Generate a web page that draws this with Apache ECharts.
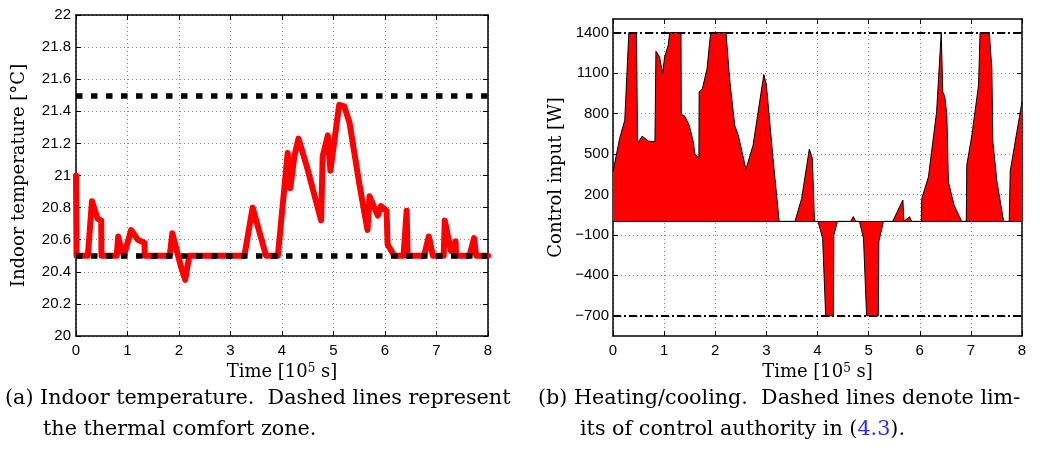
<!DOCTYPE html>
<html><head><meta charset="utf-8">
<script src="https://cdn.jsdelivr.net/npm/echarts@6/dist/echarts.min.js"></script>
<style>html,body{margin:0;padding:0;background:#fff}#c{width:1040px;height:451px}</style>
</head><body><div id="c"></div>
<script>
// ---- data ----
const tempTime = [0, 0.01, 0.23, 0.31, 0.42, 0.49, 0.495, 0.79, 0.82, 0.87, 0.93, 1.07, 1.20, 1.33, 1.335, 1.82, 1.87, 2.04, 2.12, 2.20, 3.27, 3.43, 3.69, 3.92, 4.11, 4.16, 4.24, 4.32, 4.47, 4.76, 4.79, 4.89, 4.94, 5.11, 5.21, 5.31, 5.50, 5.66, 5.70, 5.86, 5.92, 6.03, 6.05, 6.18, 6.36, 6.42, 6.44, 6.76, 6.85, 6.93, 7.14, 7.16, 7.28, 7.37, 7.38, 7.64, 7.73, 7.77, 8.0];
const tempValues = [21.0, 20.5, 20.5, 20.84, 20.73, 20.72, 20.5, 20.5, 20.62, 20.55, 20.5, 20.66, 20.6, 20.58, 20.5, 20.5, 20.64, 20.43, 20.35, 20.5, 20.5, 20.80, 20.5, 20.5, 21.14, 20.92, 21.12, 21.23, 21.07, 20.72, 21.12, 21.25, 21.03, 21.44, 21.43, 21.33, 20.95, 20.66, 20.87, 20.75, 20.81, 20.78, 20.57, 20.5, 20.5, 20.78, 20.5, 20.5, 20.62, 20.5, 20.5, 20.72, 20.53, 20.59, 20.5, 20.5, 20.61, 20.5, 20.5];
const comfortBounds = [20.5, 21.5];

const ctrlTime = [0, 0.13, 0.23, 0.31, 0.46, 0.48, 0.57, 0.69, 0.82, 0.84, 0.91, 0.97, 1.01, 1.08, 1.11, 1.33, 1.335, 1.40, 1.49, 1.57, 1.60, 1.68, 1.685, 1.75, 1.84, 1.91, 2.21, 2.28, 2.38, 2.45, 2.60, 2.74, 2.95, 3.00, 3.13, 3.25, 3.56, 3.69, 3.84, 3.90, 3.94, 4.01, 4.10, 4.16, 4.31, 4.32, 4.39, 4.65, 4.70, 4.75, 4.82, 4.90, 4.96, 5.19, 5.20, 5.29, 5.47, 5.67, 5.69, 5.80, 5.84, 6.03, 6.04, 6.17, 6.33, 6.42, 6.45, 6.49, 6.53, 6.56, 6.67, 6.82, 6.91, 6.92, 7.02, 7.15, 7.18, 7.36, 7.41, 7.43, 7.51, 7.64, 7.75, 7.77, 7.90, 8.0];
const ctrlValues = [368, 615, 750, 1400, 1400, 578, 632, 595, 590, 1261, 1220, 1096, 1220, 1306, 1400, 1400, 792, 782, 713, 590, 503, 466, 960, 985, 1133, 1400, 1400, 1059, 713, 639, 387, 565, 1089, 1010, 466, 0, 0, 170, 536, 466, 0, 0, -126, -700, -700, -101, 0, 0, 35, 0, 0, -126, -700, -700, -150, 0, 0, 158, 0, 35, 0, 0, 170, 330, 812, 1400, 960, 923, 787, 294, 121, 0, 0, 417, 639, 1010, 1400, 1400, 1133, 590, 294, 0, 0, 373, 664, 886];
const ctrlLimits = [-700, 1400];

const timeTicks = [0, 1, 2, 3, 4, 5, 6, 7, 8];
const tempTicks = [20, 20.2, 20.4, 20.6, 20.8, 21, 21.2, 21.4, 21.6, 21.8, 22];
const ctrlTicks = [-700, -400, -100, 200, 500, 800, 1100, 1400];
const ctrlRange = [-850, 1500];

const captionA = ['(a) Indoor temperature.  Dashed lines represent', 'the thermal comfort zone.'];
const captionB = ['(b) Heating/cooling.  Dashed lines denote lim-', 'its of control authority in (', '4.3', ').'];

// ---- styles ----
const SERIF = 'DejaVu Serif';
const SANS = 'Liberation Sans';
const CAPFONT = '20.7px "DejaVu Serif"';
const axisLineStyle = {color: '#000', width: 1.5};
const gridLineStyle = {color: '#8a8a8a', width: 1, type: [1, 3]};
const tickLabel = {fontFamily: SANS, fontSize: 15, color: '#000'};
const nameStyle = {fontFamily: SERIF, fontSize: 18, color: '#000',
  rich: {sup: {fontFamily: SERIF, fontSize: 12, verticalAlign: 'top', color: '#000'}}};
const fmtNum = v => (v < 0 ? '\u2212' + Math.abs(v) : String(+v.toFixed(1)));

function xAxes(g) {
  const base = {type: 'value', gridIndex: g, min: timeTicks[0], max: timeTicks[timeTicks.length - 1], interval: 1};
  return [
    Object.assign({}, base, {position: 'bottom',
      axisLine: {show: true, onZero: false, lineStyle: axisLineStyle},
      axisTick: {show: true, inside: true, length: 5, lineStyle: {color: '#000'}},
      axisLabel: Object.assign({margin: 7}, tickLabel),
      splitLine: {show: true, lineStyle: gridLineStyle},
      name: 'Time [10{sup|5} s]', nameLocation: 'middle', nameGap: 26, nameTextStyle: nameStyle}),
    Object.assign({}, base, {position: 'top',
      axisLine: {show: true, onZero: false, lineStyle: axisLineStyle},
      axisTick: {show: true, inside: true, length: 5, lineStyle: {color: '#000'}},
      axisLabel: {show: false}, splitLine: {show: false}})
  ];
}

const chart = echarts.init(document.getElementById('c'), null, {renderer: 'canvas'});
chart.setOption({
  animation: false,
  backgroundColor: '#fff',
  grid: [
    {left: 76, top: 15, width: 412, height: 321},
    {left: 613, top: 19, width: 409, height: 317}
  ],
  xAxis: [].concat(xAxes(0), xAxes(1)),
  yAxis: [
    {type: 'value', gridIndex: 0, position: 'left', min: tempTicks[0], max: tempTicks[tempTicks.length - 1], interval: 0.2,
      axisLine: {show: true, onZero: false, lineStyle: axisLineStyle},
      axisTick: {show: true, inside: true, length: 5, lineStyle: {color: '#000'}},
      axisLabel: Object.assign({margin: 5, formatter: fmtNum}, tickLabel),
      splitLine: {show: true, lineStyle: gridLineStyle},
      name: 'Indoor temperature [°C]', nameLocation: 'middle', nameGap: 48, nameTextStyle: nameStyle},
    {type: 'value', gridIndex: 0, position: 'right', min: tempTicks[0], max: tempTicks[tempTicks.length - 1], interval: 0.2,
      axisLine: {show: true, onZero: false, lineStyle: axisLineStyle},
      axisTick: {show: true, inside: true, length: 5, lineStyle: {color: '#000'}},
      axisLabel: {show: false}, splitLine: {show: false}},
    {type: 'value', gridIndex: 1, position: 'left', min: ctrlRange[0], max: ctrlRange[1],
      axisLine: {show: true, onZero: false, lineStyle: axisLineStyle},
      axisTick: {show: true, inside: true, length: 5, lineStyle: {color: '#000'}, customValues: ctrlTicks},
      axisLabel: Object.assign({margin: 4, formatter: fmtNum, customValues: ctrlTicks}, tickLabel),
      splitLine: {show: true, lineStyle: gridLineStyle},
      name: 'Control input [W]', nameLocation: 'middle', nameGap: 48, nameTextStyle: nameStyle},
    {type: 'value', gridIndex: 1, position: 'right', min: ctrlRange[0], max: ctrlRange[1],
      axisLine: {show: true, onZero: false, lineStyle: axisLineStyle},
      axisTick: {show: true, inside: true, length: 5, lineStyle: {color: '#000'}, customValues: ctrlTicks},
      axisLabel: {show: false, customValues: ctrlTicks}, splitLine: {show: false}}
  ],
  series: [
    {type: 'line', xAxisIndex: 0, yAxisIndex: 0, showSymbol: false, silent: true,
      data: tempTime.map((t, i) => [t, tempValues[i]]),
      lineStyle: {color: '#ff0000', width: 6, join: 'round', cap: 'round'},
      markLine: {symbol: 'none', silent: true, label: {show: false}, z: 5,
        lineStyle: {color: '#000', width: 5.5, type: [6.5, 8.5]},
        data: comfortBounds.map(v => ({yAxis: v}))}},
    {type: 'line', xAxisIndex: 2, yAxisIndex: 2, showSymbol: false, silent: true,
      data: ctrlTime.map((t, i) => [t, ctrlValues[i]]),
      lineStyle: {color: '#000', width: 1},
      areaStyle: {color: '#ff0000', opacity: 1},
      markLine: {symbol: 'none', silent: true, label: {show: false}, z: 5,
        data: [{yAxis: 0, lineStyle: {color: '#000', width: 1, type: 'solid'}}].concat(
          ctrlLimits.map(v => ({yAxis: v, lineStyle: {color: '#000', width: 2, type: [8, 3, 2, 3]}})))}}
  ],
  graphic: [
    {type: 'text', left: 5, top: 388, style: {text: captionA[0], font: CAPFONT, fill: '#000'}},
    {type: 'text', left: 43, top: 419, style: {text: captionA[1], font: CAPFONT, fill: '#000'}},
    {type: 'text', left: 538, top: 388, style: {text: captionB[0], font: CAPFONT, fill: '#000'}},
    {type: 'text', left: 580, top: 419, style: {text: captionB[1] + '{b|' + captionB[2] + '}' + captionB[3],
      font: CAPFONT, fill: '#000', rich: {b: {fill: '#2a2aff', font: CAPFONT}}}}
  ]
});
</script></body></html>
